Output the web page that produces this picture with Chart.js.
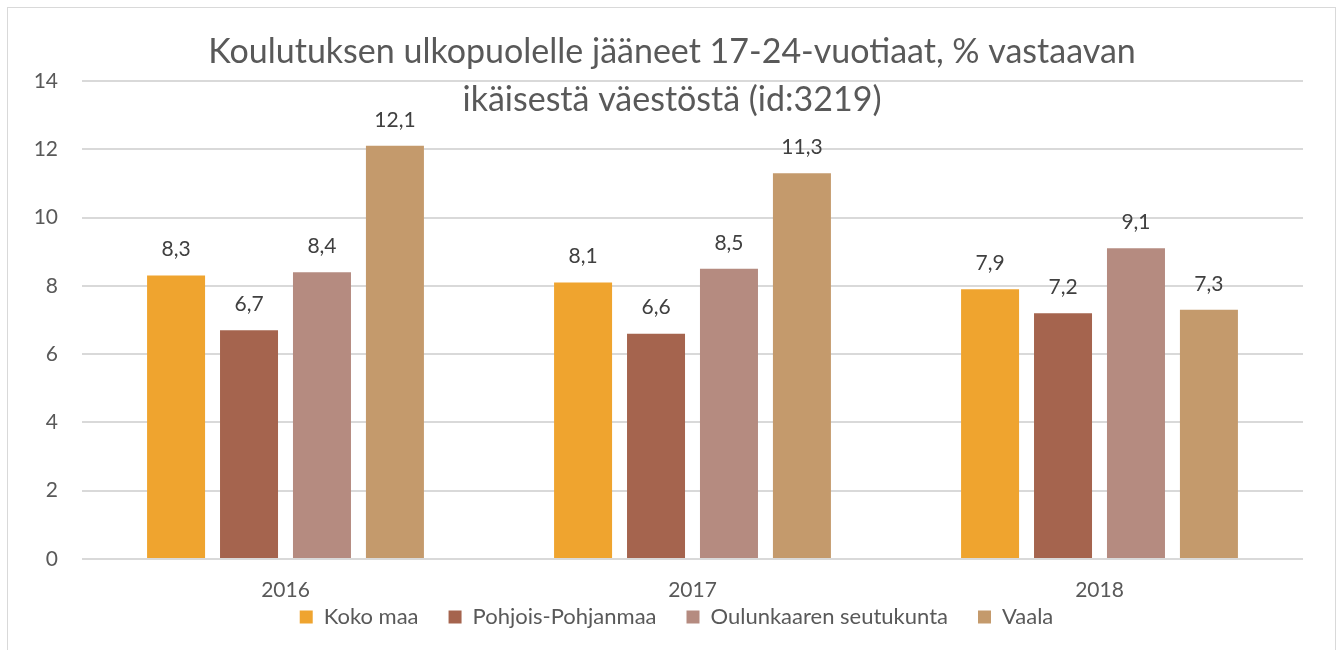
<!DOCTYPE html>
<html><head><meta charset="utf-8">
<script src="https://cdn.jsdelivr.net/npm/chart.js@4/dist/chart.umd.min.js"></script>
<style>
html,body{margin:0;padding:0;background:#fff;overflow:hidden;}
#frame{position:absolute;left:7px;top:7px;width:1329px;height:700px;border:1px solid #d9d9d9;box-sizing:border-box;}
#wrap{position:absolute;left:0;top:0;width:1338px;height:650px;}
</style></head>
<body>
<div id="frame"></div>
<div id="wrap"><canvas id="c" width="1338" height="650"></canvas></div>
<script>
const categories = ['2016','2017','2018'];
const seriesNames = ['Koko maa','Pohjois-Pohjanmaa','Oulunkaaren seutukunta','Vaala'];
const kokoMaa = [8.3, 8.1, 7.9];
const pohjoisPohjanmaa = [6.7, 6.6, 7.2];
const oulunkaaren = [8.4, 8.5, 9.1];
const vaala = [12.1, 11.3, 7.3];
const yTicks = [0,2,4,6,8,10,12,14];
const titleLines = ['Koulutuksen ulkopuolelle jääneet 17-24-vuotiaat, % vastaavan','ikäisestä väestöstä (id:3219)'];
const colors = ['#EFA42F','#A5644E','#B58B80','#C49A6C'];

const FONT = 'Lato, "Open Sans", sans-serif';
const TXT = '#595959';

const titlePlugin = {
  id:'ttl',
  afterDraw(chart){
    const ctx = chart.ctx;
    ctx.save();
    ctx.fillStyle = TXT;
    ctx.font = '34px ' + FONT;
    ctx.textAlign = 'center';
    ctx.textBaseline = 'middle';
    ctx.fillText(titleLines[0], 672, 52);
    ctx.fillText(titleLines[1], 672, 100);
    ctx.restore();
  }
};
const labelPlugin = {
  id:'lbl',
  afterDatasetsDraw(chart){
    const ctx = chart.ctx;
    ctx.save();
    ctx.fillStyle = '#404040';
    ctx.font = '21px ' + FONT;
    ctx.textAlign = 'center';
    ctx.textBaseline = 'middle';
    chart.data.datasets.forEach((ds,i)=>{
      chart.getDatasetMeta(i).data.forEach((bar,j)=>{
        ctx.fillText(ds.data[j].toFixed(1).replace('.',','), bar.x, bar.y - 26);
      });
    });
    ctx.restore();
  }
};
const noLabelClip = (s) => { s._computeLabelArea = () => undefined; };

new Chart(document.getElementById('c'), {
  type:'bar',
  data:{
    labels: categories,
    datasets:[
      {label:seriesNames[0], data:kokoMaa, backgroundColor:colors[0]},
      {label:seriesNames[1], data:pohjoisPohjanmaa, backgroundColor:colors[1]},
      {label:seriesNames[2], data:oulunkaaren, backgroundColor:colors[2]},
      {label:seriesNames[3], data:vaala, backgroundColor:colors[3]}
    ]
  },
  options:{
    responsive:false,
    animation:false,
    layout:{padding:{left:50,right:35,top:81,bottom:12}},
    datasets:{bar:{categoryPercentage:0.717, barPercentage:0.795}},
    plugins:{
      legend:{
        position:'bottom',
        labels:{font:{family:FONT,size:22}, color:TXT, boxWidth:13, boxHeight:13, padding:30}
      },
      tooltip:{enabled:false},
      title:{display:false}
    },
    scales:{
      x:{
        grid:{display:false},
        border:{display:false},
        ticks:{font:{family:FONT,size:21}, color:TXT, padding:11, autoSkip:false},
        afterFit(s){ s.height = 17; noLabelClip(s); }
      },
      y:{
        min:0,max:14,
        afterBuildTicks(s){ s.ticks = yTicks.map(v=>({value:v})); },
        grid:{color:'#d9d9d9', lineWidth:2, drawTicks:false},
        border:{display:false},
        ticks:{font:{family:FONT,size:21}, color:TXT, padding:24},
        afterFit(s){ s.width = 32; noLabelClip(s); }
      }
    }
  },
  plugins:[titlePlugin, labelPlugin]
});
</script>
</body></html>
